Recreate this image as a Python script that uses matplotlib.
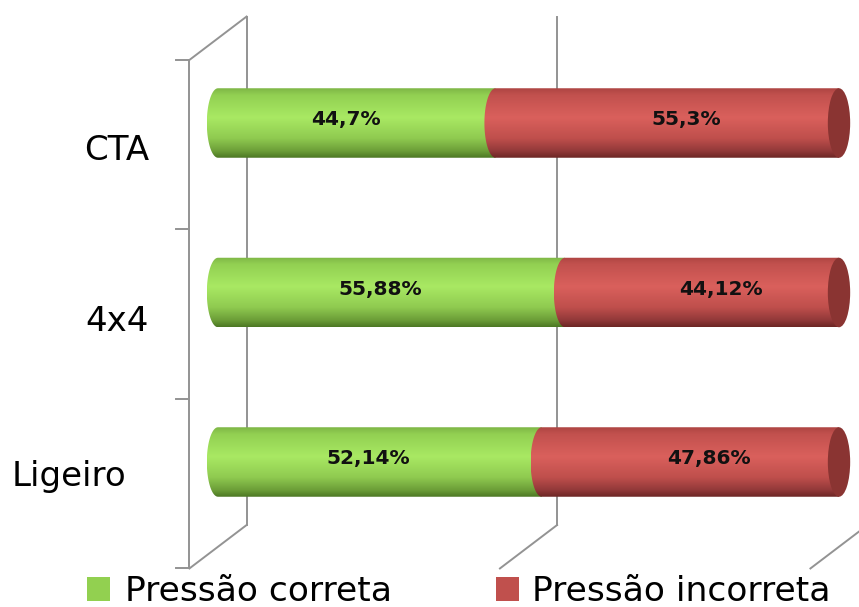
import numpy as np
import matplotlib
matplotlib.use("Agg")
import matplotlib.pyplot as plt
from matplotlib.colors import LinearSegmentedColormap
from matplotlib.path import Path
from matplotlib.patches import PathPatch, Ellipse, Rectangle

# data (bottom to top)
categories = ["Ligeiro", "4x4", "CTA"]
correta = [52.14, 55.88, 44.7]
incorreta = [47.86, 44.12, 55.3]
lbl_correta = ["52,14%", "55,88%", "44,7%"]
lbl_incorreta = ["47,86%", "44,12%", "55,3%"]
legend_labels = ["Pressão correta", "Pressão incorreta"]

green_cmap = LinearSegmentedColormap.from_list("g", [
    (0.0, "#7db545"), (0.1, "#92d052"), (0.42, "#a9e963"),
    (0.72, "#8fca50"), (0.9, "#6c9e38"), (1.0, "#4c7724")])
red_cmap = LinearSegmentedColormap.from_list("r", [
    (0.0, "#ad4442"), (0.1, "#c2514e"), (0.42, "#da605c"),
    (0.72, "#bf4f4c"), (0.9, "#923939"), (1.0, "#6c2624")])

bar_h = 0.41
rx = 1.8           # horizontal radius of the cylinder caps (in %)
dx, dy = 4.6, 0.128  # 3d depth offsets of the walls
grid_col = "#939393"

fig = plt.figure(figsize=(8.59, 6.07), dpi=100)
ax = fig.add_axes([0, 0, 1, 1])


def cyl_path(x0, x1, yc, h):
    t = np.linspace(np.pi / 2, 3 * np.pi / 2, 40)
    arc = np.column_stack([x0 + rx * np.cos(t), yc + h / 2 * np.sin(t)])
    verts = np.vstack([[[x1, yc + h / 2]], arc, [[x1, yc - h / 2]], [[x1, yc + h / 2]]])
    codes = [Path.MOVETO] + [Path.LINETO] * (len(verts) - 2) + [Path.CLOSEPOLY]
    return Path(verts, codes)


def cylinder(x0, x1, yc, cmap, z):
    patch = PathPatch(cyl_path(x0, x1, yc, bar_h), facecolor="none",
                      edgecolor="none", transform=ax.transData)
    ax.add_patch(patch)
    grad = np.linspace(0, 1, 256).reshape(-1, 1)
    im = ax.imshow(grad, extent=(x0 - rx, x1, yc - bar_h / 2, yc + bar_h / 2),
                   origin="upper", aspect="auto", cmap=cmap,
                   interpolation="bilinear", zorder=z)
    im.set_clip_path(patch)


# walls
n = len(categories)
y_lo, y_hi = -0.5, n - 0.5
lw = 1.4
for gx in [0, 50, 100]:
    ax.plot([gx + dx, gx + dx], [y_lo + dy, y_hi + dy], color=grid_col, lw=lw, zorder=1)
    ax.plot([gx - dx, gx + dx], [y_lo - dy, y_lo + dy], color=grid_col, lw=lw, zorder=1)
ax.plot([-dx, -dx], [y_lo - dy, y_hi - dy], color=grid_col, lw=lw, zorder=1)
ax.plot([-dx, dx], [y_hi - dy, y_hi + dy], color=grid_col, lw=lw, zorder=1)
for b in np.arange(y_lo, y_hi + 0.01, 1.0):
    ax.plot([-dx - 2.1, -dx], [b - dy, b - dy], color=grid_col, lw=lw, zorder=1)

# bars
for i in range(n):
    g, r = correta[i], incorreta[i]
    cylinder(0, g, i, green_cmap, 3)
    cylinder(g, g + r, i, red_cmap, 4)
    ax.add_patch(Ellipse((g + r, i), 2 * rx, bar_h, facecolor="#8a3432",
                         edgecolor="none", zorder=5))
    ax.text((g - 2 * rx) / 2, i + 0.02, lbl_correta[i], ha="center", va="center",
            fontsize=14.5, fontweight="bold", color="#111111", zorder=6)
    ax.text(g + r / 2 + 3, i + 0.02, lbl_incorreta[i], ha="center", va="center",
            fontsize=14.5, fontweight="bold", color="#111111", zorder=6)

# category labels
cat_x = [-33.2, -11.1, -11.1]
cat_ha = ["left", "right", "right"]
cat_dy = [-0.142, -0.227, -0.22]
for i, c in enumerate(categories):
    ax.text(cat_x[i], i + cat_dy[i], c, ha=cat_ha[i], va="baseline",
            fontsize=24.5, color="black")

ax.set_xlim(-218 / 6.21, (859 - 218) / 6.21)
ax.set_ylim(-(607 - 462) / 169.5, 462 / 169.5)
ax.axis("off")

# legend
W, H = 859, 607
fig.patches.append(Rectangle((87 / W, (H - 601) / H), 23 / W, 24 / H,
                             transform=fig.transFigure, facecolor="#92d050",
                             edgecolor="none"))
fig.patches.append(Rectangle((496 / W, (H - 601) / H), 23 / W, 24 / H,
                             transform=fig.transFigure, facecolor="#c0504d",
                             edgecolor="none"))
fig.text(125 / W, (H - 601) / H, legend_labels[0], fontsize=24.8, va="baseline")
fig.text(532 / W, (H - 601) / H, legend_labels[1], fontsize=24.8, va="baseline")

fig.savefig("out.png", dpi=100)
